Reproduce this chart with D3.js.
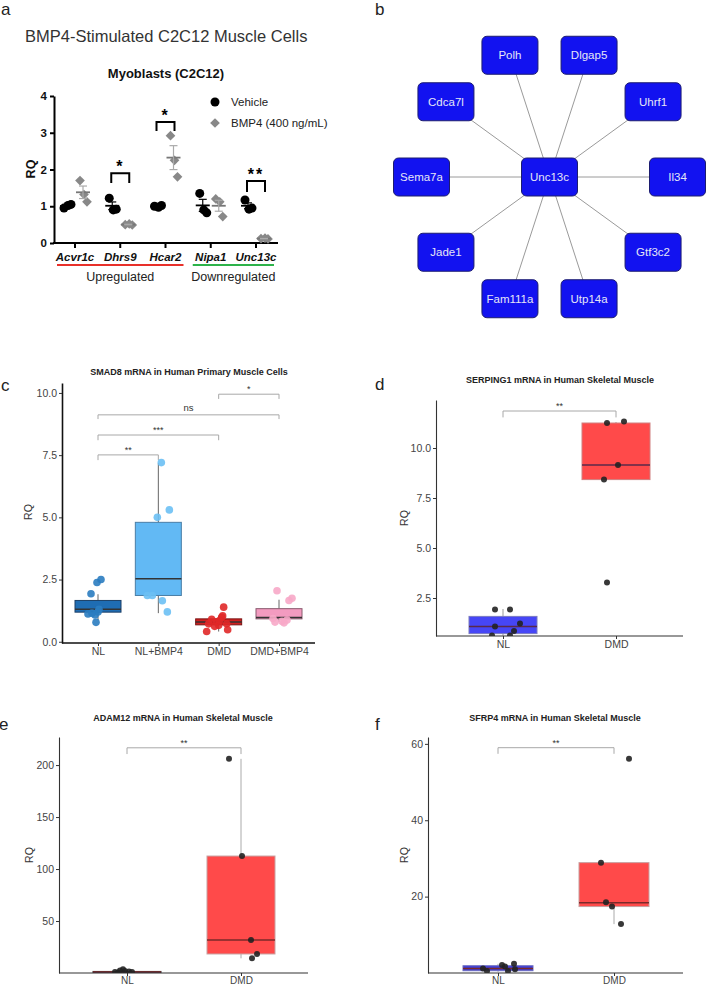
<!DOCTYPE html>
<html><head><meta charset="utf-8">
<script src="https://cdn.jsdelivr.net/npm/d3@7"></script>
<style>body{margin:0;background:#fff} svg{display:block} text{font-family:"Liberation Sans",Arial,sans-serif}</style>
</head><body><svg id="fig" width="709" height="986"></svg>
<script>
// ---------- Panel a data ----------
const aGenes = ["Acvr1c","Dhrs9","Hcar2","Nipa1","Unc13c"];
const aVehicle = [[0.95,1.02,1.05],[1.22,0.9,0.92],[1.0,0.97,1.02],[1.35,0.9,0.82],[1.17,0.92,0.95]];
const aBMP4 = [[1.7,1.32,1.12],[0.5,0.52,0.49],[2.92,2.25,1.8],[1.2,1.12,0.72],[0.12,0.13,0.11]];
const aSig = [{gene:"Dhrs9",label:"*",top:1.9,leg:1.63},{gene:"Hcar2",label:"*",top:3.29,leg:3.05},{gene:"Unc13c",label:"**",top:1.69,leg:1.39}];
const aTicks = [0,1,2,3,4];
const aGroups = [{label:"Upregulated",genes:["Acvr1c","Hcar2"],color:"#e8302a"},{label:"Downregulated",genes:["Nipa1","Unc13c"],color:"#2db34a"}];
const aSeries = ["Vehicle","BMP4 (400 ng/mL)"];

// ---------- Panel b data ----------
const bHub = "Unc13c";
const bGenes = ["Il34","Gtf3c2","Utp14a","Fam111a","Jade1","Sema7a","Cdca7l","Polh","Dlgap5","Uhrf1"];

// ---------- Panel c data ----------
const cCats = ["NL","NL+BMP4","DMD","DMD+BMP4"];
const cBox = [[0.88,1.19,1.31,1.66,1.91],[1.15,1.86,2.53,4.8,7.18],[0.41,0.68,0.79,0.92,1.05],[0.79,0.92,0.97,1.33,1.69]];
const cPts = [[2.38,2.5,1.93,1.3,1.2,1.15,1.12,1.08,0.78],[7.2,5.3,5.0,1.86,1.86,1.65,1.2],[1.39,1.04,0.98,0.9,0.85,0.8,0.72,0.72,0.66,0.62,0.48,0.41],[2.05,1.75,1.66,0.93,0.87,0.82,0.79,0.76]];
const cJit = [[-1,3,-7,1,0,-6,-10,-3,-2],[3,11,-1,-11,-6,4,9],[5,4,3,-7,1,-2,-10,8,0,-4,9,-12],[-2,13,10,-6,8,3,-4,5]];
const cSig = [{a:"NL",b:"NL+BMP4",label:"**",top:7.51,leg:7.3},{a:"NL",b:"DMD",label:"***",top:8.31,leg:8.1},{a:"NL",b:"DMD+BMP4",label:"ns",top:9.12,leg:8.95},{a:"DMD",b:"DMD+BMP4",label:"*",top:9.95,leg:9.76}];
const cTicks = [0,2.5,5,7.5,10];

// ---------- Panel d data ----------
const dCats = ["NL","DMD"];
const dBox = [[0.62,0.72,1.08,1.58,1.95],[8.42,8.42,9.15,11.25,11.3]];
const dPts = [[1.93,1.93,1.23,1.07,0.85,0.62,0.62],[11.25,11.32,9.15,8.42,3.28]];
const dJit = [[-8,7,17,-8,11,-11,7],[-9,8,2,-12,-9]];
const dSig = [{a:"NL",b:"DMD",label:"**",top:11.85,leg:11.53}];
const dTicks = [2.5,5,7.5,10];

// ---------- Panel e data ----------
const eCats = ["NL","DMD"];
const eBox = [[0.2,0.5,1.0,1.5,3.5],[14.1,18.3,31.7,112.5,206]];
const ePts = [[1,2.5,3.5,2,1.5,1,0.5],[206,112.5,31.7,18.3,14.1]];
const eJit = [[-12,-7,-4,-2,2,5,-9],[-12,1,10,16,11]];
const eSig = [{a:"NL",b:"DMD",label:"**",top:216.6,leg:210.6}];
const eTicks = [50,100,150,200];

// ---------- Panel f data ----------
const fCats = ["NL","DMD"];
const fBox = [[0.3,0.6,1.2,1.9,2.4],[12.8,17.4,18.4,28.9,28.9]];
const fPts = [[1.2,2.1,1.7,2.4,1.0,0.5,0.5],[28.9,18.5,17.4,12.8,56.1]];
const fJit = [[-15,4,7,16,17,10,-11],[-13,-8,-2,7,15]];
const fSig = [{a:"NL",b:"DMD",label:"**",top:59.0,leg:57.4}];
const fTicks = [20,40,60];

const svg = d3.select("#fig");

function panelLabel(t,x,y){ svg.append("text").attr("x",x).attr("y",y).attr("font-size",17).attr("fill","#222").text(t); }

// =============== Panel a ===============
(function(){
  panelLabel("a",1,15);
  svg.append("text").attr("x",25).attr("y",42).attr("font-size",16.5).attr("fill","#333").text("BMP4-Stimulated C2C12 Muscle Cells");
  svg.append("text").attr("x",166).attr("y",78).attr("text-anchor","middle").attr("font-size",13).attr("font-weight","bold").attr("fill","#111").text("Myoblasts (C2C12)");
  const x = d3.scalePoint().domain(aGenes).range([75,256]);
  const y = d3.scaleLinear().domain([0,4]).range([243,96]);
  const off = 8;
  const ya = svg.append("g").attr("transform","translate(54,0)").call(d3.axisLeft(y).tickValues(aTicks).tickFormat(d3.format("d")).tickSize(4).tickSizeOuter(0).tickPadding(3));
  ya.select(".domain").attr("stroke","#000").attr("stroke-width",2);
  ya.selectAll(".tick line").attr("stroke","#000").attr("stroke-width",2);
  ya.selectAll(".tick text").attr("font-size",11.5).attr("font-weight","bold").attr("fill","#111").attr("font-family","Liberation Sans, Arial, sans-serif");
  svg.append("text").attr("transform","translate(35,169) rotate(-90)").attr("text-anchor","middle").attr("font-size",12.5).attr("font-weight","bold").attr("fill","#111").text("RQ");
  svg.append("line").attr("x1",53).attr("x2",278).attr("y1",243).attr("y2",243).attr("stroke","#000").attr("stroke-width",2);
  svg.selectAll(".axt").data(aGenes).enter().append("line").attr("x1",d=>x(d)).attr("x2",d=>x(d)).attr("y1",243).attr("y2",248).attr("stroke","#000").attr("stroke-width",2);
  svg.selectAll(".gl").data(aGenes).enter().append("text").attr("x",d=>x(d)).attr("y",261).attr("text-anchor","middle")
    .attr("font-size",11.5).attr("font-weight","bold").attr("font-style","italic").attr("fill","#111").text(d=>d);
  aGroups.forEach(gr=>{
    const x0 = x(gr.genes[0])-18, x1 = x(gr.genes[1])+18;
    svg.append("line").attr("x1",x0).attr("x2",x1).attr("y1",265).attr("y2",265).attr("stroke",gr.color).attr("stroke-width",2);
    svg.append("text").attr("x",(x0+x1)/2).attr("y",281).attr("text-anchor","middle").attr("font-size",12.5).attr("fill","#222").text(gr.label);
  });
  const jit=[-3,1,4];
  aGenes.forEach((g,i)=>{
    const cx = x(g)-off;
    aVehicle[i].forEach((v,j)=>svg.append("circle").attr("cx",cx+jit[j]).attr("cy",y(v)).attr("r",4.5).attr("fill","#000"));
    const m=d3.mean(aVehicle[i]), se=d3.deviation(aVehicle[i])/Math.sqrt(aVehicle[i].length);
    svg.append("line").attr("x1",cx-7).attr("x2",cx+7).attr("y1",y(m)).attr("y2",y(m)).attr("stroke","#000").attr("stroke-width",1.8);
    svg.append("line").attr("x1",cx).attr("x2",cx).attr("y1",y(m-se)).attr("y2",y(m+se)).attr("stroke","#000").attr("stroke-width",1.2);
    [m-se,m+se].forEach(v=>svg.append("line").attr("x1",cx-4).attr("x2",cx+4).attr("y1",y(v)).attr("y2",y(v)).attr("stroke","#000").attr("stroke-width",1.2));
    const bx = x(g)+off;
    const sym=d3.symbol().type(d3.symbolDiamond2).size(60);
    aBMP4[i].forEach((v,j)=>svg.append("path").attr("d",sym()).attr("transform",`translate(${bx+jit[j]},${y(v)})`).attr("fill","#888"));
    const m2=d3.mean(aBMP4[i]), se2=d3.deviation(aBMP4[i])/Math.sqrt(aBMP4[i].length);
    svg.append("line").attr("x1",bx-7).attr("x2",bx+7).attr("y1",y(m2)).attr("y2",y(m2)).attr("stroke","#777").attr("stroke-width",1.8);
    svg.append("line").attr("x1",bx).attr("x2",bx).attr("y1",y(m2-se2)).attr("y2",y(m2+se2)).attr("stroke","#aaa").attr("stroke-width",1.2);
    [m2-se2,m2+se2].forEach(v=>svg.append("line").attr("x1",bx-4).attr("x2",bx+4).attr("y1",y(v)).attr("y2",y(v)).attr("stroke","#aaa").attr("stroke-width",1.2));
  });
  aSig.forEach(s=>{
    const x0=x(s.gene)-off-1, x1=x(s.gene)+off+1;
    svg.append("path").attr("d",`M${x0},${y(s.leg)}V${y(s.top)}H${x1}V${y(s.leg)}`).attr("fill","none").attr("stroke","#000").attr("stroke-width",2);
    svg.append("text").attr("x",(x0+x1)/2).attr("y",y(s.top)-1).attr("text-anchor","middle").attr("font-size",16).attr("font-weight","bold").attr("letter-spacing",2).text(s.label);
  });
  svg.append("circle").attr("cx",215).attr("cy",102).attr("r",4.5).attr("fill","#000");
  svg.append("path").attr("d",d3.symbol().type(d3.symbolDiamond2).size(60)()).attr("transform","translate(215,123)").attr("fill","#888");
  svg.append("text").attr("x",231).attr("y",106).attr("font-size",11.5).attr("fill","#222").text(aSeries[0]);
  svg.append("text").attr("x",231).attr("y",127).attr("font-size",11.5).attr("fill","#222").text(aSeries[1]);
})();

// =============== Panel b ===============
(function(){
  panelLabel("b",375,15);
  const cx=549.5, cy=177, R=128;
  const ang = d3.scaleLinear().domain([0,bGenes.length]).range([0,2*Math.PI]);
  const nodes = bGenes.map((g,i)=>({g,x:cx+R*Math.cos(ang(i)),y:cy+R*Math.sin(ang(i))}));
  svg.selectAll(".edge").data(nodes).enter().append("line").attr("x1",cx).attr("y1",cy).attr("x2",d=>d.x).attr("y2",d=>d.y).attr("stroke","#9a9a9a").attr("stroke-width",1);
  const all = nodes.concat([{g:bHub,x:cx,y:cy}]);
  const w=56,h=38;
  const ng = svg.selectAll(".node").data(all).enter().append("g").attr("transform",d=>`translate(${d.x},${d.y})`);
  ng.append("rect").attr("x",-w/2).attr("y",-h/2).attr("width",w).attr("height",h).attr("rx",5).attr("fill","#1212f0").attr("stroke","#1c1c70").attr("stroke-width",1);
  ng.append("text").attr("text-anchor","middle").attr("dy","0.36em").attr("font-size",11.5).attr("fill","#e6e6f6").text(d=>d.g);
})();

// =============== Box plot panels ===============
function boxPanel(cfg){
  const x = d3.scalePoint().domain(cfg.cats).range(cfg.xr);
  const y = d3.scaleLinear().domain(cfg.yd).range(cfg.yr);
  const g = svg.append("g");
  g.append("text").attr("x",cfg.tx).attr("y",cfg.ty).attr("text-anchor","middle").attr("font-size",9).attr("font-weight","bold").attr("fill","#222").text(cfg.title);
  cfg.sig.forEach(s=>{
    g.append("path").attr("d",`M${x(s.a)},${y(s.leg)}V${y(s.top)}H${x(s.b)}V${y(s.leg)}`).attr("fill","none").attr("stroke","#a8a8a8").attr("stroke-width",1);
    g.append("text").attr("x",(x(s.a)+x(s.b))/2).attr("y",y(s.top)-(s.label==="ns"?4:2)).attr("text-anchor","middle").attr("font-size",s.label==="ns"?9.5:9).attr("fill","#333").text(s.label);
  });
  const clip = "clip"+cfg.id;
  g.append("clipPath").attr("id",clip).append("rect").attr("x",cfg.ax0).attr("y",cfg.yr[1]-5).attr("width",cfg.xEnd-cfg.ax0).attr("height",cfg.yr[0]-cfg.yr[1]+5);
  const pg = g.append("g").attr("clip-path",`url(#${clip})`);
  cfg.cats.forEach((c,i)=>{
    const [lo,q1,md,q3,hi]=cfg.box[i], cx=x(c), bw=cfg.bw;
    pg.append("line").attr("x1",cx).attr("x2",cx).attr("y1",y(lo)).attr("y2",y(q1)).attr("stroke",cfg.wcol).attr("stroke-width",1);
    pg.append("line").attr("x1",cx).attr("x2",cx).attr("y1",y(q3)).attr("y2",y(hi)).attr("stroke",cfg.wcol).attr("stroke-width",1);
    pg.append("rect").attr("x",cx-bw/2).attr("width",bw).attr("y",y(q3)).attr("height",Math.max(1.5,y(q1)-y(q3))).attr("fill",cfg.fill[i]).attr("stroke",cfg.bstroke[i]).attr("stroke-width",1);
    pg.append("line").attr("x1",cx-bw/2).attr("x2",cx+bw/2).attr("y1",y(md)).attr("y2",y(md)).attr("stroke",cfg.mcol).attr("stroke-width",1.5);
    cfg.pts[i].forEach((v,j)=>pg.append("circle").attr("cx",cx+cfg.jit[i][j]).attr("cy",y(v)).attr("r",cfg.pr).attr("fill",cfg.pcol[i]).attr("opacity",cfg.pop));
  });
  const ya = g.append("g").attr("transform",`translate(${cfg.ax0},0)`).call(d3.axisLeft(y).tickValues(cfg.ticks).tickFormat(cfg.fmt).tickSize(3).tickSizeOuter(0).tickPadding(2));
  ya.select(".domain").attr("stroke",cfg.acol).attr("stroke-width",cfg.aw);
  ya.selectAll(".tick line").attr("stroke","#333");
  ya.selectAll(".tick text").attr("font-size",10.5).attr("fill","#444").attr("font-family","Liberation Sans, Arial, sans-serif");
  const xa = g.append("g").attr("transform",`translate(0,${cfg.yr[0]})`).call(d3.axisBottom(x).tickSize(3).tickSizeOuter(0).tickPadding(cfg.xpad));
  xa.select(".domain").attr("d",`M${cfg.ax0},0H${cfg.xEnd}`).attr("stroke",cfg.acol).attr("stroke-width",cfg.aw);
  xa.selectAll(".tick line").attr("stroke","#333");
  xa.selectAll(".tick text").attr("font-size",cfg.xfs).attr("fill","#444").attr("font-family","Liberation Sans, Arial, sans-serif");
  g.append("text").attr("transform",`translate(${cfg.rqx},${cfg.rqy}) rotate(-90)`).attr("text-anchor","middle").attr("font-size",10.5).attr("fill","#333").text("RQ");
}

panelLabel("c",1,391);
boxPanel({id:"c",cats:cCats,xr:[98,279],yd:[-0.05,10.4],yr:[643,383],ax0:62,xEnd:315,bw:46,
  box:cBox,pts:cPts,jit:cJit,sig:cSig,ticks:cTicks,fmt:d3.format(".1f"),xpad:2,xfs:10.5,
  title:"SMAD8 mRNA in Human Primary Muscle Cells",tx:189,ty:375,
  fill:["#1f6db3","#62b9f4","#cf1f1f","#f39bc0"],bstroke:["#1b3f66","#4a7ea6","#7a1414","#8a5a6e"],
  pcol:["#2a7cc0","#6cc0f4","#e02828","#f7a8c8"],pr:3.8,pop:0.9,wcol:"#666",mcol:"#333",acol:"#111",aw:1.6,rqx:32,rqy:512});

panelLabel("d",375,390);
boxPanel({id:"d",cats:dCats,xr:[503,616],yd:[0.6,12.4],yr:[636,400],ax0:436,xEnd:683,bw:68,
  box:dBox,pts:dPts,jit:dJit,sig:dSig,ticks:dTicks,fmt:d3.format(".1f"),xpad:2,xfs:10.5,
  title:"SERPING1 mRNA in Human Skeletal Muscle",tx:560,ty:383,
  fill:["#4646f6","#ff4a4a"],bstroke:["#7a7ac0","#d08080"],
  pcol:["#222","#222"],pr:3,pop:0.9,wcol:"#999",mcol:"#5a2a4a",acol:"#333",aw:1.1,rqx:408,rqy:518});

panelLabel("e",-1,730);
boxPanel({id:"e",cats:eCats,xr:[127,241],yd:[0,227],yr:[973,737],ax0:59,xEnd:308,bw:68,
  box:eBox,pts:ePts,jit:eJit,sig:eSig,ticks:eTicks,fmt:d3.format("d"),xpad:0.5,xfs:10,
  title:"ADAM12 mRNA in Human Skeletal Muscle",tx:183,ty:721,
  fill:["#4646f6","#ff4a4a"],bstroke:["#333","#c8a0a0"],
  pcol:["#222","#222"],pr:3,pop:0.9,wcol:"#aaa",mcol:"#7a2a2a",acol:"#333",aw:1.1,rqx:33,rqy:855});

panelLabel("f",375,730);
boxPanel({id:"f",cats:fCats,xr:[498,614],yd:[0,61.8],yr:[973,737],ax0:428,xEnd:683,bw:70,
  box:fBox,pts:fPts,jit:fJit,sig:fSig,ticks:fTicks,fmt:d3.format("d"),xpad:0.5,xfs:10,
  title:"SFRP4 mRNA in Human Skeletal Muscle",tx:555,ty:721,
  fill:["#3c3cd8","#ff4a4a"],bstroke:["#6a6ac0","#c8a0a0"],
  pcol:["#222","#222"],pr:3,pop:0.9,wcol:"#aaa",mcol:"#7a2a2a",acol:"#333",aw:1.1,rqx:408,rqy:855});
</script>
</body></html>
